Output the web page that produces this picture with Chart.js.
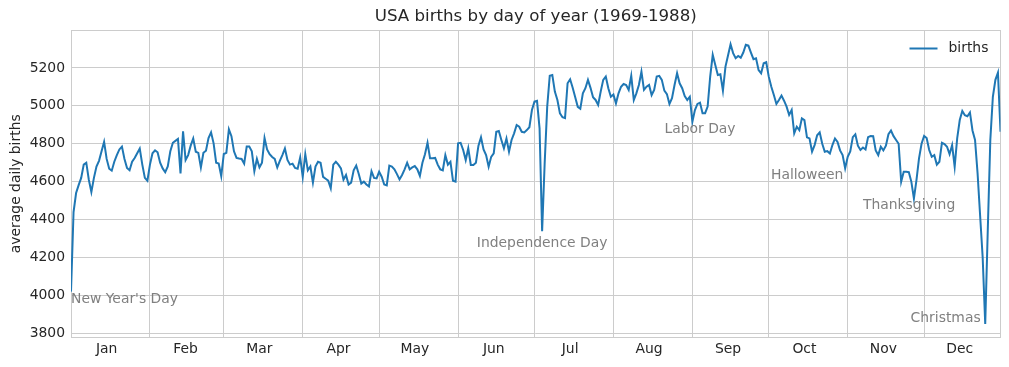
<!DOCTYPE html>
<html><head><meta charset="utf-8">
<script src="https://cdn.jsdelivr.net/npm/chart.js@4"></script>
<style>html,body{margin:0;padding:0;background:#fff}#wrap{width:1009px;height:367px}</style>
</head><body><div id="wrap"><canvas id="c" width="1009" height="367"></canvas></div>
<script>
const monthNames = ['Jan','Feb','Mar','Apr','May','Jun','Jul','Aug','Sep','Oct','Nov','Dec'];
const monthStarts = [0,31,60,91,121,152,182,213,244,274,305,335];
const monthMids = monthStarts.map(d => d + 14);
const yTicks = [3800,4000,4200,4400,4600,4800,5000,5200];

const jan = [4020,4440,4540,4582,4620,4690,4700,4610,4545,4620,4680,4710,4760,4810,4720,4668,4658,4705,4740,4770,4785,4720,4672,4660,4705,4725,4750,4775,4690,4620,4605];
const feb = [4690,4750,4765,4755,4700,4670,4650,4680,4760,4805,4815,4825,4644,4865,4714,4740,4790,4828,4758,4752,4675,4752,4763,4830,4860,4802,4700,4696,4629];
const mar = [4746,4752,4876,4840,4760,4725,4722,4720,4695,4785,4785,4760,4655,4720,4675,4700,4830,4770,4745,4730,4720,4675,4710,4740,4775,4715,4690,4695,4672,4668,4728];
const apr = [4625,4745,4660,4680,4595,4680,4705,4700,4625,4615,4605,4565,4690,4705,4690,4670,4610,4635,4585,4595,4660,4685,4640,4590,4600,4585,4575,4655,4620,4617];
const may = [4652,4626,4585,4580,4685,4680,4665,4640,4612,4635,4665,4700,4665,4675,4682,4665,4630,4700,4745,4805,4723,4723,4725,4690,4665,4660,4740,4690,4705,4605,4600];
const jun = [4802,4805,4767,4714,4776,4688,4688,4700,4790,4834,4770,4740,4679,4731,4749,4863,4867,4820,4776,4828,4758,4820,4855,4899,4890,4863,4860,4872,4887,4978];
const jul = [5022,5026,4881,4339,4696,4996,5159,5163,5075,5031,4960,4940,4935,5119,5140,5095,5045,4995,4985,5066,5093,5137,5095,5045,5031,5005,5075,5137,5154,5093,5048];
const aug = [5060,5013,5066,5101,5115,5110,5084,5158,5031,5066,5110,5180,5084,5101,5110,5057,5084,5154,5158,5137,5080,5062,5010,5040,5110,5172,5119,5093,5052,5031,5048];
const sep = [4916,4978,5010,5017,4961,4961,4996,5154,5269,5216,5163,5167,5080,5207,5265,5325,5278,5251,5263,5254,5281,5322,5318,5281,5246,5251,5189,5172,5225,5230];
const oct = [5154,5101,5057,5010,5031,5054,5027,4996,4952,4978,4855,4890,4872,4934,4925,4834,4828,4758,4793,4845,4860,4800,4758,4761,4749,4793,4828,4810,4765,4740,4670];
const nov = [4731,4760,4835,4850,4790,4767,4780,4770,4835,4841,4840,4765,4740,4784,4765,4790,4850,4870,4840,4820,4800,4600,4652,4652,4650,4599,4511,4608,4723,4800];
const dec = [4841,4830,4767,4731,4740,4690,4705,4805,4798,4784,4745,4793,4679,4830,4925,4973,4950,4945,4965,4870,4820,4644,4420,4200,3850,4344,4820,5048,5137,5175,4863];

const births = [].concat(jan,feb,mar,apr,may,jun,jul,aug,sep,oct,nov,dec);

const holidayNames = ["New Year's Day","Independence Day","Labor Day","Halloween","Thanksgiving","Christmas"];
const holidayDays  = [0,185,247,303.3,329.1,357.2];
const holidayVals  = [3981,4277,4877,4631,4475,3881];
const holidayAlign = ['left','center','center','right','center','right'];

const FONT = '"DejaVu Sans", sans-serif';
const TXT = '#262626';

const extras = {
  id: 'extras',
  beforeDatasetsDraw(chart) {
    const {ctx, chartArea: a} = chart;
    ctx.save();
    ctx.strokeStyle = '#cccccc';
    ctx.lineWidth = 1;
    ctx.strokeRect(Math.round(a.left) + 0.5, Math.round(a.top) + 0.5, Math.round(a.right) - Math.round(a.left) - 1, Math.round(a.bottom) - Math.round(a.top) - 1);
    ctx.restore();
  },
  afterDraw(chart) {
    const {ctx, chartArea: a, scales} = chart;
    ctx.save();
    ctx.fillStyle = TXT;
    ctx.font = '16.67px ' + FONT;
    ctx.textAlign = 'center';
    ctx.textBaseline = 'middle';
    ctx.fillText('USA births by day of year (1969-1988)', (a.left + a.right) / 2, 16.5);
    ctx.fillStyle = '#808080';
    ctx.font = '13.9px ' + FONT;
    holidayNames.forEach((t, i) => {
      ctx.textAlign = holidayAlign[i];
      ctx.fillText(t, scales.x.getPixelForValue(holidayDays[i]), scales.y.getPixelForValue(holidayVals[i]));
    });
    const ly = a.top + 18.5;
    ctx.strokeStyle = '#1f77b4';
    ctx.lineWidth = 2;
    ctx.beginPath();
    ctx.moveTo(a.right - 91, ly);
    ctx.lineTo(a.right - 63, ly);
    ctx.stroke();
    ctx.fillStyle = TXT;
    ctx.textAlign = 'left';
    ctx.fillText(chart.data.datasets[0].label, a.right - 52, ly);
    ctx.restore();
  }
};

new Chart(document.getElementById('c'), {
  type: 'line',
  data: { datasets: [{
    label: 'births',
    data: births.map((v, i) => ({x: i, y: v})),
    borderColor: '#1f77b4', borderWidth: 2, pointRadius: 0, tension: 0, fill: false
  }]},
  options: {
    responsive: false, animation: false, devicePixelRatio: 1,
    layout: { padding: { top: 30, right: 8.5, left: 0, bottom: 0 } },
    plugins: { legend: { display: false }, title: { display: false }, tooltip: { enabled: false } },
    scales: {
      x: {
        type: 'linear', min: 0, max: 365,
        afterBuildTicks: ax => { ax.ticks = monthStarts.concat(monthMids).sort((p, q) => p - q).map(v => ({value: v})); },
        ticks: { autoSkip: false, maxRotation: 0, padding: 4, color: TXT, font: { family: FONT, size: 13.9 },
          callback: v => { const i = monthMids.indexOf(v); return i >= 0 ? monthNames[i] : ''; } },
        grid: { color: c => (c.tick && monthStarts.includes(c.tick.value)) ? '#cccccc' : 'rgba(0,0,0,0)', drawTicks: false, lineWidth: 1 },
        border: { display: false },
        afterFit: s => { s.height = 29.5; }
      },
      y: {
        type: 'linear', min: 3778, max: 5400,
        afterBuildTicks: ax => { ax.ticks = yTicks.map(v => ({value: v})); },
        ticks: { padding: 6, color: TXT, font: { family: FONT, size: 13.9 }, callback: v => String(v) },
        grid: { color: '#cccccc', drawTicks: false, lineWidth: 1 },
        border: { display: false },
        title: { display: true, text: 'average daily births', color: TXT, font: { family: FONT, size: 13.9 }, padding: { top: 8, bottom: 0 } },
        afterFit: s => { s.width = 71; }
      }
    }
  },
  plugins: [extras]
});
</script>
</body></html>
